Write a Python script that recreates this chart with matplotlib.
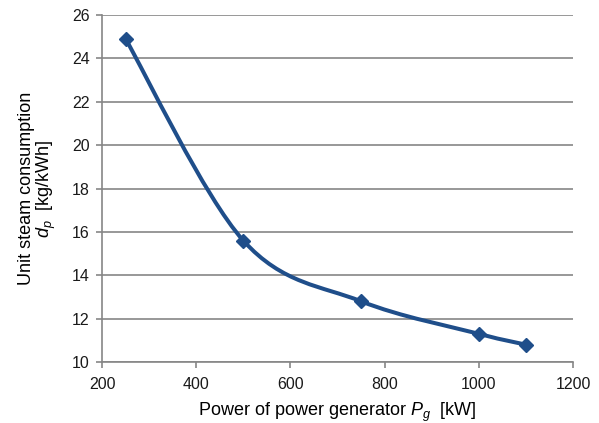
import matplotlib
matplotlib.use("Agg")
import matplotlib.pyplot as plt
from matplotlib.path import Path
from matplotlib.patches import PathPatch
import numpy as np

power_kw = [250, 500, 750, 1000, 1100]
steam_kg_kwh = [24.9, 15.6, 12.8, 11.3, 10.8]
x_ticks = [200, 400, 600, 800, 1000, 1200]
y_ticks = [10, 12, 14, 16, 18, 20, 22, 24, 26]

plt.rcParams['font.family'] = ['Liberation Sans', 'DejaVu Sans']
plt.rcParams['mathtext.fontset'] = 'custom'
plt.rcParams['mathtext.rm'] = 'Liberation Sans'
plt.rcParams['mathtext.it'] = 'Liberation Sans:italic'

color = '#1f4e8a'
grey = '#868686'

fig = plt.figure(figsize=(5.99, 4.23), dpi=100)
ax = fig.add_axes([0.1703, 0.1442, 0.9566 - 0.1703, 0.9645 - 0.1442])

# smooth (Catmull-Rom style Bezier) line through data points
pts = np.column_stack([power_kw, steam_kg_kwh]).astype(float)
n = len(pts)
verts = [pts[0]]
codes = [Path.MOVETO]
for i in range(n - 1):
    p0 = pts[i - 1] if i > 0 else pts[i]
    p1 = pts[i]
    p2 = pts[i + 1]
    p3 = pts[i + 2] if i + 2 < n else pts[i + 1]
    c1 = p1 + (p2 - p0) / 6.0
    c2 = p2 - (p3 - p1) / 6.0
    verts += [c1, c2, p2]
    codes += [Path.CURVE4] * 3
ax.add_patch(PathPatch(Path(verts, codes), facecolor='none', edgecolor=color,
                       lw=2.9, capstyle='round', joinstyle='round', zorder=3))
ax.plot(power_kw, steam_kg_kwh, linestyle='none', marker='D', markersize=7.5,
        color=color, zorder=4)

ax.set_xlim(200, 1200)
ax.set_ylim(10, 26)
ax.set_xticks(x_ticks)
ax.set_yticks(y_ticks)
ax.yaxis.grid(True, color=grey, lw=1.2)
ax.set_axisbelow(True)
for s in ['top', 'right']:
    ax.spines[s].set_visible(False)
for s in ['left', 'bottom']:
    ax.spines[s].set_color(grey)
    ax.spines[s].set_linewidth(1.2)
ax.tick_params(axis='both', direction='out', length=4, width=1.2, color=grey,
               labelsize=11.5, labelcolor='#1a1a1a')
ax.tick_params(axis='x', pad=7)
ax.tick_params(axis='y', pad=5)

ax.set_xlabel(r'Power of power generator $P_g$  [kW]', fontsize=13, labelpad=6)
ax.set_ylabel('Unit steam consumption\n' + r'$d_p$  [kg/kWh]', fontsize=13,
              labelpad=10, linespacing=1.0)

fig.savefig('out.png', dpi=100)
